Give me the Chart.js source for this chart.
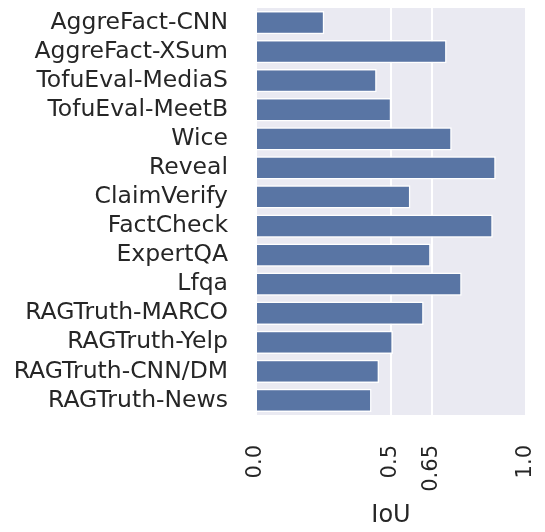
<!DOCTYPE html>
<html>
<head>
<meta charset="utf-8">
<script src="https://cdn.jsdelivr.net/npm/chart.js@4"></script>
<style>
html,body{margin:0;padding:0;background:#fff;}
#wrap{width:545px;height:532px;position:relative;}
</style>
</head>
<body>
<div id="wrap"><canvas id="c"></canvas></div>
<script>
const categories = ["AggreFact-CNN","AggreFact-XSum","TofuEval-MediaS","TofuEval-MeetB","Wice","Reveal","ClaimVerify","FactCheck","ExpertQA","Lfqa","RAGTruth-MARCO","RAGTruth-Yelp","RAGTruth-CNN/DM","RAGTruth-News"];
const iouValues = [0.253,0.706,0.447,0.501,0.725,0.888,0.572,0.877,0.647,0.762,0.621,0.507,0.456,0.428];
const xTickValues = [0, 0.5, 0.65, 1.0];
const xTickLabels = ["0.0","0.5","0.65","1.0"];
const xTitle = "IoU";

const bgPlugin = {
  id: 'plotBg',
  beforeDraw(chart) {
    const {ctx, chartArea:a} = chart;
    ctx.save();
    ctx.fillStyle = '#eaeaf2';
    ctx.fillRect(a.left, a.top, a.right - a.left, a.bottom - a.top);
    ctx.restore();
  }
};

new Chart(document.getElementById('c'), {
  type: 'bar',
  data: {
    labels: categories,
    datasets: [{
      data: iouValues,
      backgroundColor: '#5975a4',
      borderColor: '#ffffff',
      borderWidth: 1.5,
      categoryPercentage: 0.8,
      barPercentage: 1.0
    }]
  },
  options: {
    indexAxis: 'y',
    responsive: true,
    maintainAspectRatio: false,
    animation: false,
    devicePixelRatio: 1,
    layout: { padding: { top: 8, right: 19, left: 0, bottom: 0 } },
    plugins: { legend: { display: false }, tooltip: { enabled: false } },
    scales: {
      x: {
        type: 'linear',
        min: 0, max: 1,
        afterBuildTicks(s) { s.ticks = xTickValues.map(v => ({ value: v })); },
        afterFit(s) { s.height = 117; s.paddingLeft = 0; s.paddingRight = 0; },
        ticks: {
          autoSkip: false,
          minRotation: 90, maxRotation: 90,
          padding: 30,
          color: '#262626',
          font: { family: 'DejaVu Sans', size: 21 },
          callback(v) { const i = xTickValues.indexOf(v); return i >= 0 ? xTickLabels[i] : ''; }
        },
        grid: { color: '#ffffff', lineWidth: 2, drawTicks: false },
        border: { display: false },
        title: {
          display: true, text: xTitle, color: '#262626',
          font: { family: 'DejaVu Sans', size: 24 },
          padding: { top: 0, bottom: 2 }
        }
      },
      y: {
        afterFit(s) { s.width = 256; s.paddingTop = 0; s.paddingBottom = 0; },
        ticks: {
          autoSkip: false,
          padding: 28,
          color: '#262626',
          font: { family: 'DejaVu Sans', size: 23.5 }
        },
        grid: { display: false, drawTicks: false },
        border: { display: false }
      }
    }
  },
  plugins: [bgPlugin]
});
</script>
</body>
</html>
